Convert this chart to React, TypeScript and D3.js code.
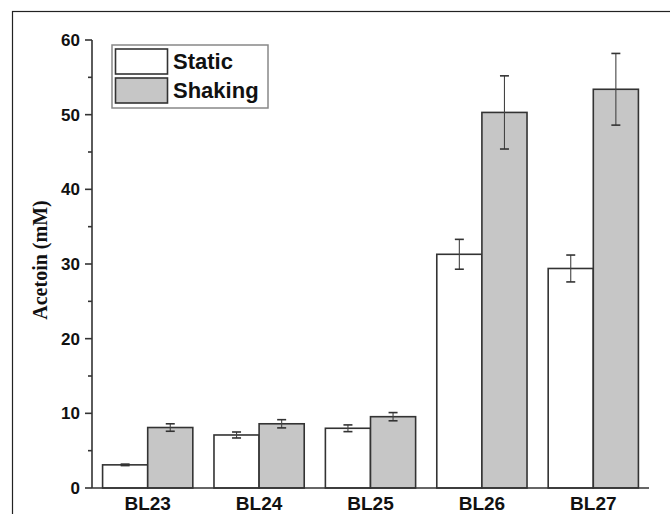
import React from "react";
import * as d3 from "d3";

const categories = ["BL23", "BL24", "BL25", "BL26", "BL27"];
const seriesNames = ["Static", "Shaking"];
const staticValues = [3.1, 7.1, 8.0, 31.3, 29.4];
const staticErrors = [0.1, 0.4, 0.45, 2.0, 1.8];
const shakingValues = [8.1, 8.6, 9.55, 50.3, 53.4];
const shakingErrors = [0.5, 0.55, 0.55, 4.9, 4.8];
const yTicks = [0, 10, 20, 30, 40, 50, 60];
const yMinorTicks = [5, 15, 25, 35, 45, 55];

const W = 670;
const H = 514;
const X0 = 92;
const X1 = 649;
const Y0 = 488;
const Y1 = 40;
const fills = ["#ffffff", "#c6c6c6"];
const stroke = "#333333";

export default function App() {
  const x = d3
    .scaleBand<string>()
    .domain(categories)
    .range([X0, X1])
    .paddingInner(0.19)
    .paddingOuter(0.095);
  const sub = d3.scaleBand<string>().domain(seriesNames).range([0, x.bandwidth()]);
  const y = d3.scaleLinear().domain([0, 60]).range([Y0, Y1]);

  const series = [
    { name: "Static", values: staticValues, errors: staticErrors },
    { name: "Shaking", values: shakingValues, errors: shakingErrors },
  ];

  const sans = "'Liberation Sans', Arial, sans-serif";
  const serif = "'Liberation Serif', 'Times New Roman', serif";

  return (
    <svg
      width={W}
      height={H}
      style={{ position: "absolute", left: 0, top: 0, background: "#fff" }}
    >
      {/* outer frame */}
      <rect x={12.5} y={11.5} width={W + 20} height={H + 20} fill="none" stroke="#222" strokeWidth={1.2} />

      {/* bars */}
      {series.map((s, si) =>
        categories.map((c, i) => {
          const bx = (x(c) ?? 0) + (sub(s.name) ?? 0);
          const bw = sub.bandwidth();
          const v = s.values[i];
          const e = s.errors[i];
          const cx = bx + bw / 2;
          return (
            <g key={s.name + c}>
              <rect
                x={bx}
                y={y(v)}
                width={bw}
                height={Y0 - y(v)}
                fill={fills[si]}
                stroke={stroke}
                strokeWidth={1.6}
              />
              <line x1={cx} x2={cx} y1={y(v + e)} y2={y(v - e)} stroke="#444" strokeWidth={1.1} />
              <line x1={cx - 4.5} x2={cx + 4.5} y1={y(v + e)} y2={y(v + e)} stroke="#333" strokeWidth={1.6} />
              <line x1={cx - 4.5} x2={cx + 4.5} y1={y(v - e)} y2={y(v - e)} stroke="#333" strokeWidth={1.6} />
            </g>
          );
        })
      )}

      {/* y axis */}
      <line x1={X0} x2={X0} y1={Y1} y2={Y0} stroke={stroke} strokeWidth={1.6} />
      {yTicks.map((t) => (
        <g key={"t" + t}>
          <line x1={X0 - 7} x2={X0} y1={y(t)} y2={y(t)} stroke={stroke} strokeWidth={1.6} />
          <text
            x={X0 - 12}
            y={y(t)}
            dy="0.35em"
            textAnchor="end"
            fontFamily={sans}
            fontWeight="bold"
            fontSize={17}
            fill="#111"
          >
            {t}
          </text>
        </g>
      ))}
      {yMinorTicks.map((t) => (
        <line key={"m" + t} x1={X0 - 4} x2={X0} y1={y(t)} y2={y(t)} stroke={stroke} strokeWidth={1.6} />
      ))}

      {/* x axis */}
      <line x1={X0} x2={X1} y1={Y0} y2={Y0} stroke={stroke} strokeWidth={1.6} />
      {categories.map((c) => (
        <text
          key={"x" + c}
          x={(x(c) ?? 0) + x.bandwidth() / 2}
          y={Y0 + 22}
          textAnchor="middle"
          fontFamily={sans}
          fontWeight="bold"
          fontSize={19}
          fill="#111"
        >
          {c}
        </text>
      ))}

      {/* y label */}
      <text
        transform={`translate(47, 260) rotate(-90)`}
        textAnchor="middle"
        fontFamily={serif}
        fontWeight="bold"
        fontSize={20}
        fill="#111"
      >
        Acetoin (mM)
      </text>

      {/* legend */}
      <rect x={112} y={45} width={156} height={63} fill="#fff" stroke="#888" strokeWidth={1.5} />
      {seriesNames.map((n, i) => (
        <g key={"l" + n}>
          <rect x={115.5} y={49 + i * 29} width={52} height={25} fill={fills[i]} stroke={stroke} strokeWidth={1.6} />
          <text
            x={173}
            y={49 + i * 29 + 12.5}
            dy="0.36em"
            fontFamily={sans}
            fontWeight="bold"
            fontSize={22}
            fill="#111"
          >
            {n}
          </text>
        </g>
      ))}
    </svg>
  );
}
